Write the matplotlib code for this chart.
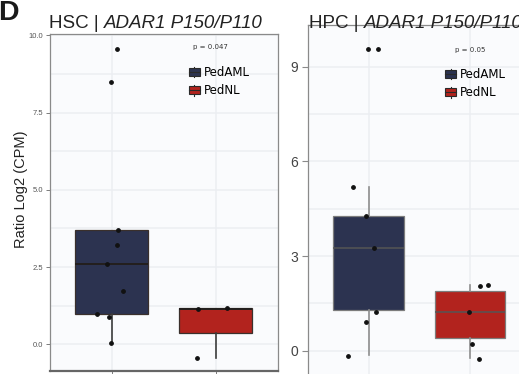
import matplotlib.pyplot as plt
from matplotlib.patches import Rectangle, Patch
from matplotlib.lines import Line2D
from matplotlib.legend_handler import HandlerBase
from matplotlib.ticker import MultipleLocator
from matplotlib import cbook

plt.rcParams['font.family'] = ['Liberation Sans', 'DejaVu Sans']

groups = ['PedAML', 'PedNL']
group_colours = ['#2c3350', '#b2231e']

# HSC panel - raw points (box stats computed from them)
hsc_aml = [0.03, 0.89, 0.98, 1.72, 2.59, 3.21, 3.70, 8.50, 9.56]
hsc_aml_x = [0.995, 0.97, 0.86, 1.11, 0.95, 1.05, 1.06, 0.995, 1.05]
hsc_nl = [-0.43, 1.16, 1.18]
hsc_nl_x = [1.82, 1.83, 2.11]
hsc_p = 'p = 0.047'

# HPC panel - points and box stats
hpc_aml = [9.55, 9.55, 5.20, 4.27, 3.24, 1.24, 0.92, -0.16]
hpc_aml_x = [0.99, 1.09, 0.84, 0.97, 1.05, 1.07, 0.97, 0.80]
hpc_nl = [2.05, 2.08, 1.22, 0.20, -0.26]
hpc_nl_x = [2.10, 2.18, 1.99, 2.02, 2.09]
hpc_q1 = [1.29, 0.39]
hpc_med = [3.24, 1.22]
hpc_q3 = [4.27, 1.89]
hpc_lo = [-0.14, -0.24]
hpc_hi = [5.18, 2.08]
hpc_p = 'p = 0.05'


class BoxKey(HandlerBase):
    def create_artists(self, legend, orig_handle, xdescent, ydescent,
                       width, height, fontsize, trans):
        face = orig_handle.get_facecolor()
        edge = '#2a2a2a'
        x0, y0 = -xdescent, -ydescent
        whisk = Line2D([x0 + width / 2] * 2, [y0 - 0.12 * height, y0 + 1.12 * height],
                       color=edge, lw=0.8, transform=trans)
        box = Rectangle((x0, y0 + 0.04 * height), width, 0.92 * height,
                        facecolor=face, edgecolor=edge, lw=0.8, transform=trans)
        mid = Line2D([x0, x0 + width], [y0 + 0.5 * height] * 2,
                     color=edge, lw=0.8, transform=trans)
        return [whisk, box, mid]


def style_panel(ax, major, minor):
    ax.set_facecolor('#fafbfd')
    ax.set_axisbelow(True)
    ax.yaxis.set_major_locator(MultipleLocator(major))
    ax.yaxis.set_minor_locator(MultipleLocator(minor))
    ax.grid(True, which='major', color='#eceef2', lw=1.1)
    ax.grid(True, which='minor', axis='y', color='#eceef2', lw=1.1)
    ax.tick_params(axis='y', which='minor', length=0)
    ax.set_xticks([1, 2])
    ax.set_xticklabels(['', ''])
    ax.set_xlim(0.4, 2.6)


def draw_boxes(ax, stats, edge, whisk_col, med_col, med_lw):
    ax.bxp(stats, positions=[1, 2], widths=0.7, patch_artist=True,
           showcaps=False, showfliers=False,
           boxprops=dict(edgecolor=edge, lw=0.9),
           whiskerprops=dict(color=whisk_col, lw=1.2),
           medianprops=dict(color=med_col, lw=med_lw),
           manage_ticks=False)
    for patch, col in zip(ax.patches, group_colours):
        patch.set_facecolor(col)


fig = plt.figure(figsize=(5.19, 3.74), dpi=100)

# ---------- HSC ----------
ax1 = fig.add_axes([49.5 / 519, 3 / 374, 228.5 / 519, 337 / 374])
style_panel(ax1, 2.5, 1.25)
ax1.set_ylim(-0.86, 10.04)
stats1 = cbook.boxplot_stats([hsc_aml, hsc_nl])
draw_boxes(ax1, stats1, '#3a302c', '#3c3c3c', '#231f1d', 1.4)
ax1.scatter(hsc_aml_x, hsc_aml, s=6, color='#111111', zorder=5)
ax1.scatter(hsc_nl_x, hsc_nl, s=6, color='#111111', zorder=5)
ax1.yaxis.set_major_formatter(plt.FuncFormatter(lambda v, p: f'{v:.1f}'))
ax1.tick_params(axis='y', labelsize=5.5, labelcolor='#555555', color='#666666',
                length=3, width=0.6, pad=1.5)
ax1.tick_params(axis='x', color='#666666', length=3, width=0.6)
for s in ['top', 'right', 'left']:
    ax1.spines[s].set_color('#8a8a8a')
    ax1.spines[s].set_linewidth(0.9)
ax1.spines['bottom'].set_color('#666666')
ax1.spines['bottom'].set_linewidth(1.6)
ax1.text(1.95, 9.63, hsc_p, ha='center', va='center', fontsize=5,
         color='#333333', family='DejaVu Sans')
handles = [Patch(facecolor=c) for c in group_colours]
ax1.legend(handles, groups, handler_map={Patch: BoxKey()}, loc='upper left',
           bbox_to_anchor=(0.61, 0.905), frameon=False, borderpad=0,
           borderaxespad=0, handlelength=0.95, handleheight=0.75,
           handletextpad=0.3, labelspacing=0.45,
           prop=dict(family='DejaVu Sans', size=8.5))
ax1.set_ylabel('Ratio Log2 (CPM)', fontsize=10.5, color='#222222')
ax1.yaxis.set_label_coords(-0.094, 0.54)

# ---------- HPC ----------
ax2 = fig.add_axes([308 / 519, -2 / 374, 222.7 / 519, 351 / 374])
style_panel(ax2, 3, 1.5)
ax2.set_ylim(-0.80, 10.32)
stats2 = [dict(q1=q1, med=m, q3=q3, whislo=lo, whishi=hi, fliers=[])
          for q1, m, q3, lo, hi in zip(hpc_q1, hpc_med, hpc_q3, hpc_lo, hpc_hi)]
draw_boxes(ax2, stats2, '#7c7c7c', '#8e8e8e', '#555555', 1.1)
ax2.scatter(hpc_aml_x, hpc_aml, s=6, color='#111111', zorder=5)
ax2.scatter(hpc_nl_x, hpc_nl, s=6, color='#111111', zorder=5)
ax2.set_yticks([0, 3, 6, 9])
ax2.tick_params(axis='y', labelsize=10, labelcolor='#444444', color='#8a8a8a',
                length=4, width=0.8, pad=3)
for s in ['top', 'right', 'left', 'bottom']:
    ax2.spines[s].set_color('#8a8a8a')
    ax2.spines[s].set_linewidth(0.9)
ax2.text(2.0, 9.53, hpc_p, ha='center', va='center', fontsize=5,
         color='#333333', family='DejaVu Sans')
ax2.legend(handles, groups, handler_map={Patch: BoxKey()}, loc='upper left',
           bbox_to_anchor=(0.615, 0.877), frameon=False, borderpad=0,
           borderaxespad=0, handlelength=0.95, handleheight=0.75,
           handletextpad=0.3, labelspacing=0.45,
           prop=dict(family='DejaVu Sans', size=8.5))

# ---------- titles ----------
for x, name in [(49 / 519, 'HSC | '), (309 / 519, 'HPC | ')]:
    t = fig.text(x, 1 - 28 / 374, name, fontsize=13.5, va='baseline', ha='left',
                 color='#222222')
    fig.add_artist(plt.Annotation('ADAR1 P150/P110', xy=(1, 0), xycoords=t,
                                  va='bottom', ha='left', fontsize=13.5,
                                  fontstyle='italic', color='#222222'))

fig.text(-1.5 / 519, 1 - 20.5 / 374, 'D', fontsize=20.5, fontweight='bold',
         va='baseline', ha='left', color='#1a1a1a')

fig.savefig('out.png', dpi=100)
